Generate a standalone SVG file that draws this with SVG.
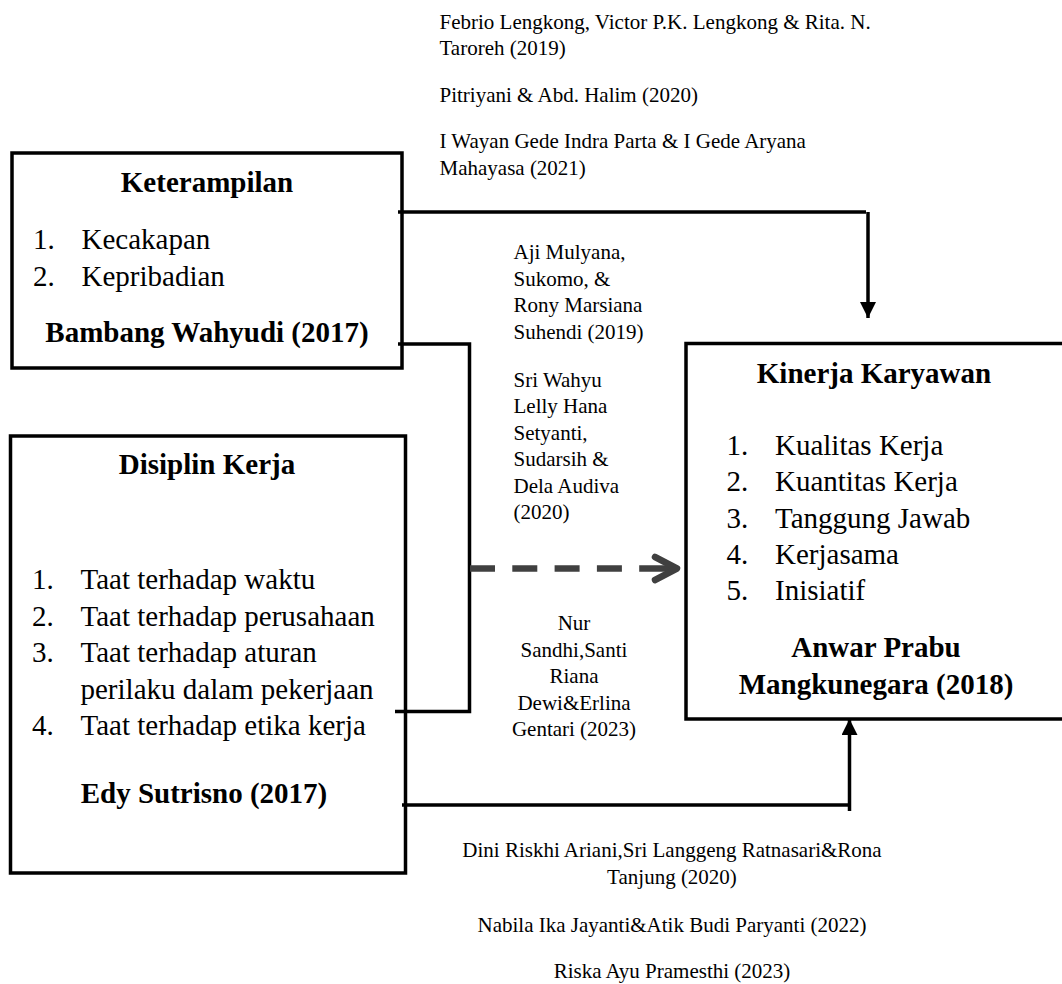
<svg xmlns="http://www.w3.org/2000/svg" width="1062" height="984" viewBox="0 0 1062 984">
<style>
text{font-family:"Liberation Serif","Times New Roman",serif;fill:#000}
.t{font-size:29px}
.b{font-size:29px;font-weight:bold}
.c{font-size:21px}
.m{text-anchor:middle}
.box{fill:#fff;stroke:#000;stroke-width:3.5}
.ln{fill:none;stroke:#000;stroke-width:3.5}
</style>
<defs>
<marker id="tri" markerUnits="userSpaceOnUse" markerWidth="16" markerHeight="16" viewBox="0 0 16 16" refX="16" refY="8" orient="auto"><path d="M0,0 L16,8 L0,16 z" fill="#000"/></marker>
</defs>
<rect width="1062" height="984" fill="#fff"/>

<g id="node-keterampilan">
<rect class="box" x="12" y="153" width="390" height="215"/>
<text class="b m" x="207" y="192">Keterampilan</text>
<text class="t" x="33" y="249">1.</text><text class="t" x="81.5" y="249">Kecakapan</text>
<text class="t" x="33" y="286">2.</text><text class="t" x="81.5" y="286">Kepribadian</text>
<text class="b m" x="207" y="342">Bambang Wahyudi (2017)</text>
</g>

<g id="node-disiplin">
<rect class="box" x="10.5" y="436" width="395" height="437"/>
<text class="b m" x="207" y="474">Disiplin Kerja</text>
<text class="t" x="32" y="589">1.</text><text class="t" x="80.5" y="589">Taat terhadap waktu</text>
<text class="t" x="32" y="625.5">2.</text><text class="t" x="80.5" y="625.5">Taat terhadap perusahaan</text>
<text class="t" x="32" y="662">3.</text><text class="t" x="80.5" y="662">Taat terhadap aturan</text>
<text class="t" x="80.5" y="698.5">perilaku dalam pekerjaan</text>
<text class="t" x="32" y="735">4.</text><text class="t" x="80.5" y="735">Taat terhadap etika kerja</text>
<text class="b m" x="204" y="803">Edy Sutrisno (2017)</text>
</g>

<g id="node-kinerja">
<rect class="box" x="686" y="343.5" width="400" height="375.5"/>
<text class="b m" x="874" y="383">Kinerja Karyawan</text>
<text class="t" x="726.5" y="454.5">1.</text><text class="t" x="775" y="454.5">Kualitas Kerja</text>
<text class="t" x="726.5" y="491">2.</text><text class="t" x="775" y="491">Kuantitas Kerja</text>
<text class="t" x="726.5" y="527.5">3.</text><text class="t" x="775" y="527.5">Tanggung Jawab</text>
<text class="t" x="726.5" y="564">4.</text><text class="t" x="775" y="564">Kerjasama</text>
<text class="t" x="726.5" y="600">5.</text><text class="t" x="775" y="600">Inisiatif</text>
<text class="b m" x="876" y="657">Anwar Prabu</text>
<text class="b m" x="876" y="693.5">Mangkunegara (2018)</text>
</g>

<g id="connectors">
<polyline class="ln" points="398,212 866,212"/>
<line class="ln" x1="868" y1="212" x2="868" y2="318" marker-end="url(#tri)"/>
<polyline class="ln" points="398,344 469.5,344 469.5,711.5 395,711.5"/>
<line x1="470" y1="568.5" x2="676" y2="568.5" stroke="#404040" stroke-width="6.5" stroke-dasharray="25 17.3 25 17.3 25 17.3 25 17.3 40 20"/>
<polyline points="655,557 677,568.5 655,580" fill="none" stroke="#404040" stroke-width="6.5" stroke-linecap="round" stroke-linejoin="round"/>
<polyline class="ln" points="402,805 849.5,805"/>
<line class="ln" x1="849.5" y1="811" x2="849.5" y2="719" marker-end="url(#tri)"/>
</g>

<g id="citations">
<text class="c" x="439.5" y="28.5">Febrio Lengkong, Victor P.K. Lengkong &amp; Rita. N.</text>
<text class="c" x="439.5" y="55">Taroreh (2019)</text>
<text class="c" x="439.5" y="101.7">Pitriyani &amp; Abd. Halim (2020)</text>
<text class="c" x="439.5" y="148.3">I Wayan Gede Indra Parta &amp; I Gede Aryana</text>
<text class="c" x="439.5" y="175">Mahayasa (2021)</text>

<text class="c" x="513.5" y="258.5">Aji Mulyana,</text>
<text class="c" x="513.5" y="285.5">Sukomo, &amp;</text>
<text class="c" x="513.5" y="312.3">Rony Marsiana</text>
<text class="c" x="513.5" y="339">Suhendi (2019)</text>
<text class="c" x="513.5" y="386.5">Sri Wahyu</text>
<text class="c" x="513.5" y="413">Lelly Hana</text>
<text class="c" x="513.5" y="439.5">Setyanti,</text>
<text class="c" x="513.5" y="466">Sudarsih &amp;</text>
<text class="c" x="513.5" y="492.7">Dela Audiva</text>
<text class="c" x="513.5" y="519.3">(2020)</text>

<text class="c m" x="574" y="629.5">Nur</text>
<text class="c m" x="574" y="656.5">Sandhi,Santi</text>
<text class="c m" x="574" y="683">Riana</text>
<text class="c m" x="574" y="709.5">Dewi&amp;Erlina</text>
<text class="c m" x="574" y="736">Gentari (2023)</text>

<text class="c m" x="672" y="857">Dini Riskhi Ariani,Sri Langgeng Ratnasari&amp;Rona</text>
<text class="c m" x="672" y="884">Tanjung (2020)</text>
<text class="c m" x="672" y="931.5">Nabila Ika Jayanti&amp;Atik Budi Paryanti (2022)</text>
<text class="c m" x="672" y="978">Riska Ayu Pramesthi (2023)</text>
</g>
</svg>
